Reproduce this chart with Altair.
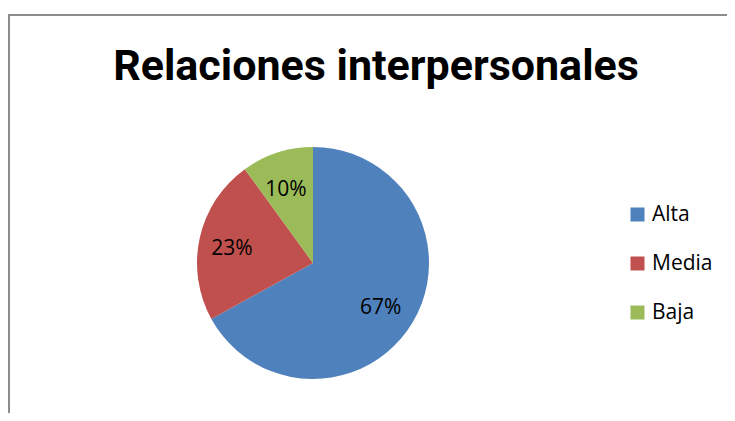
import altair as alt
import pandas as pd

categories = ["Alta", "Media", "Baja"]
values = [67, 23, 10]
labels = ["67%", "23%", "10%"]
colors = ["#4F81BD", "#C0504D", "#9BBB59"]
title_text = "Relaciones interpersonales"

df = pd.DataFrame({"cat": categories, "val": values, "lab": labels,
                   "order": [0, 1, 2]})

W, H = 719, 405
CX, CY, R = 305, 255, 116

base = alt.Chart(df)

pie = base.mark_arc(outerRadius=R, stroke=None).encode(
    theta=alt.Theta("val:Q", stack=True),
    color=alt.Color("cat:N", sort=categories,
                    scale=alt.Scale(domain=categories, range=colors),
                    legend=alt.Legend(title=None, orient="none",
                                      legendX=619, legendY=196,
                                      symbolType="square", symbolSize=196,
                                      symbolStrokeWidth=0,
                                      labelFontSize=21, labelFont="Open Sans",
                                      labelColor="#000000", rowPadding=27,
                                      labelOffset=4, padding=0)),
    order=alt.Order("order:Q"),
    x=alt.value(CX), y=alt.value(CY),
)

txt = base.mark_text(radius=81, fontSize=21, font="Open Sans",
                     color="#000000", dy=4, dx=-2).encode(
    theta=alt.Theta("val:Q", stack=True),
    text="lab:N",
    order=alt.Order("order:Q"),
    x=alt.value(CX), y=alt.value(CY),
)

title = alt.Chart(pd.DataFrame({"t": [title_text]})).mark_text(
    font="Roboto", fontWeight="bold", fontSize=43,
    color="#000000", align="center", baseline="alphabetic"
).encode(text="t:N", x=alt.value(368), y=alt.value(72))

top_rule = alt.Chart(pd.DataFrame({"a": [0]})).mark_rule(
    color="#8C8C8C", strokeWidth=2).encode(
    x=alt.value(0), x2=alt.value(W), y=alt.value(7))
left_rule = alt.Chart(pd.DataFrame({"a": [0]})).mark_rule(
    color="#8C8C8C", strokeWidth=2).encode(
    x=alt.value(1), y=alt.value(6), y2=alt.value(H))

chart = alt.layer(top_rule, left_rule, pie, txt, title).properties(
    width=W, height=H, padding=0,
    autosize=alt.AutoSizeParams(type="none"),
).configure_view(stroke=None)

chart.save("out.html", embed_options={"renderer": "svg", "actions": False})
